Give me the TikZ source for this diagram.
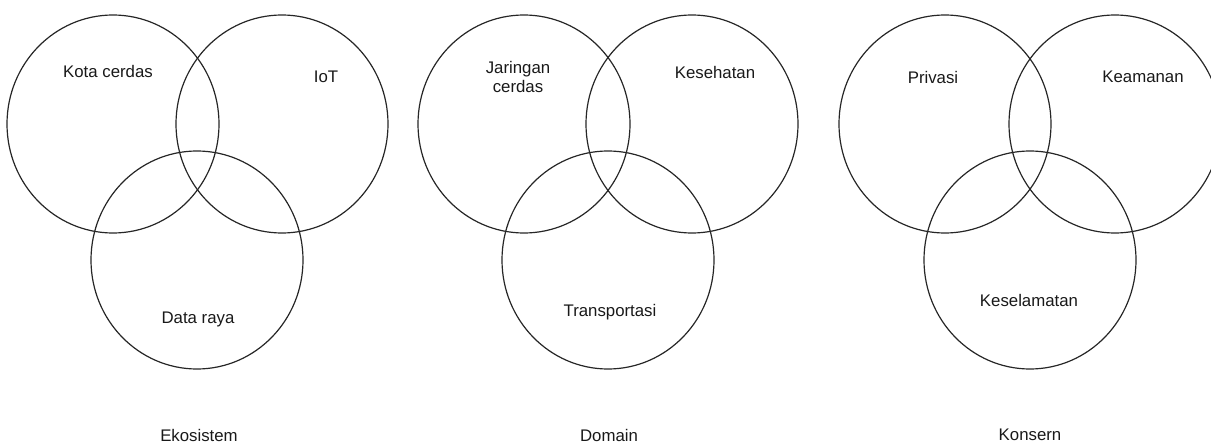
\documentclass[tikz,border=0pt]{standalone}
\usepackage{fontspec}
\setmainfont{Liberation Sans}
\usetikzlibrary{shapes.geometric}
\begin{document}
\begin{tikzpicture}[x=1pt,y=-1pt,
  venn/.style={draw=black!85, line width=1.2pt, ellipse, minimum width=212pt, minimum height=218pt, inner sep=0pt},
  lbl/.style={font=\fontsize{16.8}{19.5}\selectfont, text=black!90, align=center, inner sep=0pt},
  grouptitle/.style={font=\fontsize{16.8}{19.5}\selectfont, text=black!90, inner sep=0pt}]
\useasboundingbox (0,0) rectangle (1211,444);
% Ekosistem
\node[venn] (e1) at (113,124) {};
\node[venn] (e2) at (282,124) {};
\node[venn] (e3) at (197,260) {};
\node[lbl] (te1) at (108,71) {Kota cerdas};
\node[lbl] (te2) at (326,77) {IoT};
\node[lbl] (te3) at (198,319) {Data raya};
\node[grouptitle] (ce) at (199,435) {Ekosistem};
% Domain
\node[venn] (d1) at (524,124) {};
\node[venn] (d2) at (692,124) {};
\node[venn] (d3) at (608,260) {};
\node[lbl] (td1) at (518,77) {Jaringan\\cerdas};
\node[lbl] (td2) at (715,72) {Kesehatan};
\node[lbl] (td3) at (610,312) {Transportasi};
\node[grouptitle] (cd) at (609,435) {Domain};
% Konsern
\node[venn] (k1) at (945,124) {};
\node[venn] (k2) at (1115,124) {};
\node[venn] (k3) at (1030,260) {};
\node[lbl] (tk1) at (933,77) {Privasi};
\node[lbl] (tk2) at (1143,77) {Keamanan};
\node[lbl] (tk3) at (1029,300) {Keselamatan};
\node[grouptitle] (ck) at (1030,435) {Konsern};
\end{tikzpicture}
\end{document}
